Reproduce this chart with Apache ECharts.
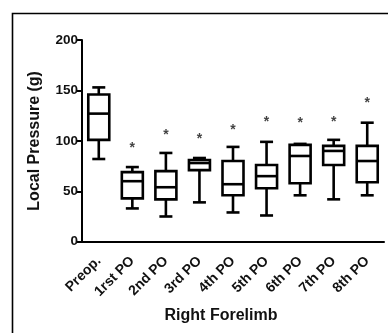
<!DOCTYPE html>
<html><head><meta charset="utf-8">
<script src="https://cdn.jsdelivr.net/npm/echarts@6/dist/echarts.min.js"></script>
<style>html,body{margin:0;padding:0;background:#fff}#c{width:388px;height:333px}</style>
</head><body><div id="c"></div>
<script>
const categories = ['Preop.', '1rst PO', '2nd PO', '3rd PO', '4th PO', '5th PO', '6th PO', '7th PO', '8th PO'];
const minValues    = [82, 33, 25, 39, 29, 26, 46, 42, 46];
const q1Values     = [101, 43, 42, 71, 46, 53, 58, 76, 59];
const medianValues = [127, 60, 54, 78, 57, 65, 85, 90, 80];
const q3Values     = [146, 69, 70, 81, 80, 76, 96, 95, 95];
const maxValues    = [153, 74, 88, 83, 94, 99, 97, 101, 118];
const starCategories = ['1rst PO', '2nd PO', '3rd PO', '4th PO', '5th PO', '6th PO', '7th PO', '8th PO'];
const starValues   = [96, 109, 105, 114, 122, 121, 122, 140];
const yTicks = [0, 50, 100, 150, 200];

const boxData = categories.map((c, i) => [i, minValues[i], q1Values[i], medianValues[i], q3Values[i], maxValues[i]]);
const starData = starCategories.map((c, i) => [c, starValues[i]]);

const FONT = '"Liberation Sans", Arial, sans-serif';
const LW = 2.6;
const chart = echarts.init(document.getElementById('c'), null, {renderer: 'canvas'});
chart.setOption({
  animation: false,
  backgroundColor: '#fff',
  graphic: [{
    type: 'rect', left: 10, top: 11, shape: {width: 420, height: 400},
    style: {fill: 'none', stroke: '#000', lineWidth: 1.6}, silent: true
  }],
  grid: {left: 82, right: 4, top: 40, bottom: 91.3, containLabel: false},
  xAxis: {
    type: 'category', data: categories, boundaryGap: true,
    name: 'Right Forelimb', nameLocation: 'middle', nameGap: 66,
    nameTextStyle: {fontFamily: FONT, fontSize: 16, fontWeight: 'bold', color: '#111', padding: [0, 24, 0, 0]},
    axisLine: {lineStyle: {color: '#000', width: 2}},
    axisTick: {alignWithLabel: true, length: 5, lineStyle: {color: '#000', width: 2}},
    axisLabel: {rotate: 45, interval: 0, margin: 17, fontFamily: FONT, fontSize: 14, fontWeight: 'bold', color: '#111'},
    splitLine: {show: false}
  },
  yAxis: {
    type: 'value', min: 0, max: 200, interval: 50,
    name: 'Local Pressure (g)', nameLocation: 'middle', nameGap: 39,
    nameTextStyle: {fontFamily: FONT, fontSize: 16, fontWeight: 'bold', color: '#111'},
    axisLine: {show: true, lineStyle: {color: '#000', width: 2}},
    axisTick: {show: true, length: 5, lineStyle: {color: '#000', width: 2}},
    axisLabel: {margin: 4, fontFamily: FONT, fontSize: 13.5, fontWeight: 'bold', color: '#111',
      formatter: v => yTicks.includes(v) ? String(v) : ''},
    splitLine: {show: false}
  },
  series: [{
    type: 'custom',
    data: boxData,
    encode: {x: 0, y: [1, 2, 3, 4, 5]},
    renderItem: function (params, api) {
      const idx = api.value(0);
      const pMin = api.coord([idx, api.value(1)]);
      const pQ1 = api.coord([idx, api.value(2)]);
      const pMed = api.coord([idx, api.value(3)]);
      const pQ3 = api.coord([idx, api.value(4)]);
      const pMax = api.coord([idx, api.value(5)]);
      const x = pMed[0];
      const hw = 10.5, cw = 6.5;
      const st = {stroke: '#000', lineWidth: LW, fill: 'none'};
      return {
        type: 'group',
        children: [
          {type: 'rect', shape: {x: x - hw, y: pQ3[1], width: 2 * hw, height: pQ1[1] - pQ3[1]}, style: st},
          {type: 'line', shape: {x1: x - hw, y1: pMed[1], x2: x + hw, y2: pMed[1]}, style: st},
          {type: 'line', shape: {x1: x, y1: pQ3[1], x2: x, y2: pMax[1]}, style: st},
          {type: 'line', shape: {x1: x, y1: pQ1[1], x2: x, y2: pMin[1]}, style: st},
          {type: 'line', shape: {x1: x - cw, y1: pMax[1], x2: x + cw, y2: pMax[1]}, style: st},
          {type: 'line', shape: {x1: x - cw, y1: pMin[1], x2: x + cw, y2: pMin[1]}, style: st}
        ]
      };
    }
  }, {
    type: 'scatter',
    data: starData,
    symbolSize: 1,
    itemStyle: {color: 'rgba(0,0,0,0)'},
    label: {show: true, position: 'inside', offset: [0, 3], formatter: '*', fontFamily: FONT, fontSize: 14, fontWeight: 'bold', color: '#111'}
  }]
});
</script></body></html>
